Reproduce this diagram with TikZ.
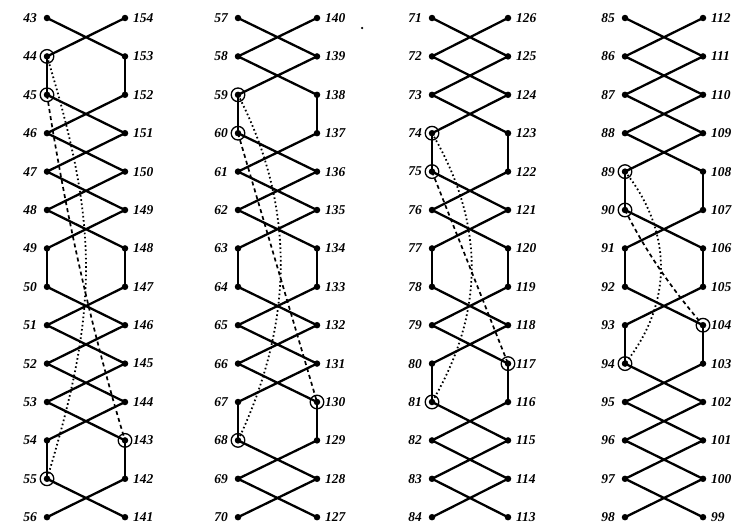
\documentclass[tikz,border=0pt]{standalone}
\usepackage{fontspec}
\setmainfont{Liberation Serif}
\begin{document}
\begin{tikzpicture}[x=1pt,y=-1pt,
  vtx/.style={circle,fill=black,inner sep=0pt,minimum size=6.5pt},
  edge/.style={line width=2.3pt,line cap=round},
  ring/.style={draw=black,line width=1.3pt},
  lab/.style={inner sep=0pt,font=\fontsize{13.5}{15}\selectfont\bfseries\itshape},
  dotline/.style={line width=1.8pt,dash pattern=on 1.6pt off 2.6pt},
  dashline/.style={line width=1.7pt,dash pattern=on 4pt off 3.2pt}]
\useasboundingbox (0,0) rectangle (740,530);
\foreach \c/\xl/\xr in {1/47/125,2/238/317,3/432/508,4/625/703}{
  \foreach \k in {0,...,13}{
    \pgfmathtruncatemacro\lnum{43+14*(\c-1)+\k}
    \pgfmathtruncatemacro\rnum{154-14*(\c-1)-\k}
    \node[vtx] (L\c-\k) at (\xl,18+38.4*\k) {};
    \node[vtx] (R\c-\k) at (\xr,18+38.4*\k) {};
    \node[lab,anchor=east] (tl\c-\k) at (\xl-10,18+38.4*\k) {\lnum};
    \node[lab,anchor=west] (tr\c-\k) at (\xr+8,18+38.4*\k) {\rnum};
  }
}
\newcommand\myladder[3]{%
  \foreach \k in {#2}{\pgfmathtruncatemacro\j{\k+1}
    \draw[edge] (L#1-\k.center) -- (R#1-\j.center) (R#1-\k.center) -- (L#1-\j.center);}
  \foreach \k in {#3}{\pgfmathtruncatemacro\j{\k+1}
    \draw[edge] (L#1-\k.center) -- (L#1-\j.center) (R#1-\k.center) -- (R#1-\j.center);}}
\myladder{1}{0,2,3,4,5,7,8,9,10,12}{1,6,11}
\myladder{2}{0,1,3,4,5,7,8,9,11,12}{2,6,10}
\myladder{3}{0,1,2,4,5,7,8,10,11,12}{3,6,9}
\myladder{4}{0,1,2,3,5,7,9,10,11,12}{4,6,8}
% rings
\foreach \n in {L1-1,L1-2,R1-11,L1-12,L2-2,L2-3,R2-10,L2-11,L3-3,L3-4,R3-9,L3-10,L4-4,L4-5,R4-8,L4-9}
  \draw[ring] (\n.center) circle (6.8);
% dotted and dashed curves
\draw[dotline] (L1-1.center) .. controls +(52,170) and +(52,-170) .. (L1-12.center);
\draw[dashline] (L1-2.center) .. controls +(18,116) and +(-34,-112) .. (R1-11.center);
\draw[dotline] (L2-2.center) .. controls +(57,110) and +(57,-120) .. (L2-11.center);
\draw[dashline] (L2-3.center) -- (R2-10.center);
\draw[dotline] (L3-3.center) .. controls +(53,90) and +(53,-90) .. (L3-10.center);
\draw[dashline] (L3-4.center) -- (R3-9.center);
\draw[dotline] (L4-4.center) .. controls +(48,60) and +(48,-60) .. (L4-9.center);
\draw[dashline] (L4-5.center) .. controls +(21,42) and +(-31,-36) .. (R4-8.center);
\node[circle,fill=black,inner sep=0pt,minimum size=2.5pt] (stray) at (362,28) {};
\end{tikzpicture}
\end{document}
